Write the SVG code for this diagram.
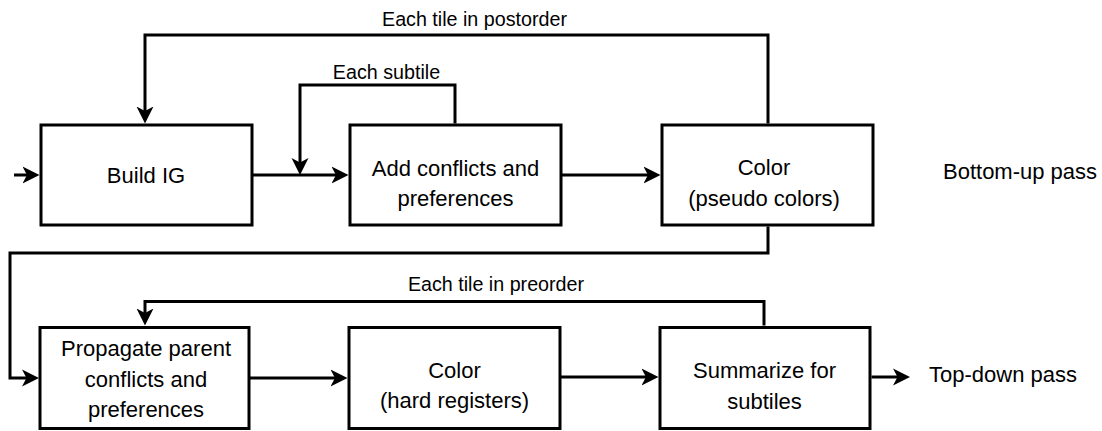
<svg xmlns="http://www.w3.org/2000/svg" width="1102" height="431" viewBox="0 0 1102 431">
<defs>
<style>
.box{fill:#fff;stroke:#000;stroke-width:3}
.c{fill:none;stroke:#000;stroke-width:3;marker-end:url(#arr)}
.l{fill:none;stroke:#000;stroke-width:3}
.t{font-family:"Liberation Sans",Arial,sans-serif;font-size:22px;fill:#000;text-anchor:middle}
.e{font-family:"Liberation Sans",Arial,sans-serif;font-size:19.7px;fill:#000;text-anchor:middle}
.s{font-family:"Liberation Sans",Arial,sans-serif;font-size:22px;fill:#000}
</style>
<marker id="arr" markerUnits="userSpaceOnUse" markerWidth="18" markerHeight="18" viewBox="0 0 18 18" refX="11" refY="9" orient="auto">
<path d="M0,0.5 L17,9 L0,17.5 L4.5,9 Z" fill="#000"/>
</marker>
</defs>
<rect width="1102" height="431" fill="#fff"/>
<g id="connectors">
<path class="c" d="M14,175 H33.5"/>
<path class="c" d="M252,175 H342.5"/>
<path class="c" d="M561,175 H654.5"/>
<path class="c" d="M455,123.5 V85 H300 V169"/>
<path class="c" d="M768,123.5 V35 H145 V117.5"/>
<path class="c" d="M768,226.5 V253 H10 V378 H33"/>
<path class="c" d="M250,378 H341.5"/>
<path class="c" d="M561,377 H652.5"/>
<path class="c" d="M764,325.5 V301.5 H145 V319.5"/>
<path class="c" d="M871.5,377 H904"/>
<text class="e" x="474.5" y="26">Each tile in postorder</text>
<text class="e" x="386.5" y="78.5">Each subtile</text>
<text class="e" x="496" y="290.5">Each tile in preorder</text>
</g>
<g id="build-ig">
<rect class="box" x="41" y="125" width="211" height="100"/>
<text class="t" x="146" y="182.5">Build IG</text>
</g>
<g id="add-conflicts">
<rect class="box" x="350" y="125" width="211" height="100"/>
<text class="t" x="455.5" y="175.5">Add conflicts and</text>
<text class="t" x="455.5" y="206">preferences</text>
</g>
<g id="color-pseudo">
<rect class="box" x="662" y="125" width="211" height="100"/>
<text class="t" x="764" y="175">Color</text>
<text class="t" x="764" y="205.5">(pseudo colors)</text>
</g>
<g id="propagate">
<rect class="box" x="40" y="327.5" width="209" height="101"/>
<text class="t" x="146" y="356">Propagate parent</text>
<text class="t" x="146" y="386.5">conflicts and</text>
<text class="t" x="146" y="417">preferences</text>
</g>
<g id="color-hard">
<rect class="box" x="349" y="327.5" width="211" height="101"/>
<text class="t" x="454.5" y="377.5">Color</text>
<text class="t" x="454.5" y="408">(hard registers)</text>
</g>
<g id="summarize">
<rect class="box" x="660" y="327.5" width="210" height="101"/>
<text class="t" x="764.5" y="378">Summarize for</text>
<text class="t" x="764.5" y="408.5">subtiles</text>
</g>
<g id="bottom-up-label">
<text class="s" x="943" y="179">Bottom-up pass</text>
</g>
<g id="top-down-label">
<text class="s" x="929" y="381.5">Top-down pass</text>
</g>
</svg>
